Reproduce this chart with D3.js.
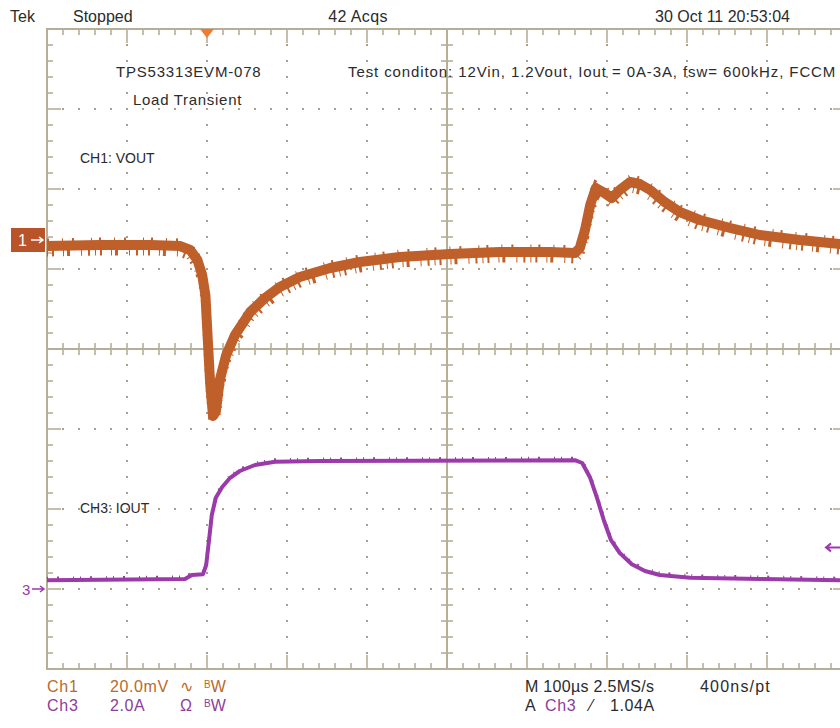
<!DOCTYPE html>
<html lang="en">
<head>
<meta charset="UTF-8">
<title>TPS53313EVM-078 Load Transient</title>
<script src="https://cdnjs.cloudflare.com/ajax/libs/d3/7.8.5/d3.min.js"></script>
<style>
    body { margin: 0; background: #fff; }
    svg { display: block; font-family: "Liberation Sans", Arial, sans-serif; }
</style>
</head>
<body>
<div id="chart"></div>
<script>
    // time in µs from left edge of the screen (100 µs/div, 10 div)
    const ch1Time = [0, 66, 129, 166, 179, 188, 194, 198, 201, 204, 207.5, 211, 216, 224, 235, 254, 272.5,
        291, 316, 354, 391, 441, 504, 566, 629, 660, 666, 672.5, 679, 686, 695, 706, 716, 729, 741, 754,
        772, 791, 816, 854, 891, 941, 991, 1000];
    // VOUT deviation in mV (20 mV/div)
    const ch1Vout = [-1.5, -1.25, -1.25, -1.5, -2.5, -5, -8.75, -13.75, -25, -36, -44, -43, -35, -28.75,
        -23.75, -18, -14.5, -11.75, -9.25, -7, -5.5, -4.25, -3.5, -3, -3, -3.25, -2, 2.5, 8.75, 13, 12,
        10.5, 12.5, 14.5, 14, 12.5, 9.5, 7, 5, 3, 1.25, 0, -1, -1];

    const ch3Time = [0, 172.5, 181, 195, 199, 202.5, 206, 211, 219, 229, 241, 260, 285, 341, 660, 669,
        679, 687.5, 696, 705, 716, 731, 747.5, 766, 804, 891, 991, 1000];
    // IOUT in A (2 A/div)
    const ch3Iout = [0.22, 0.25, 0.35, 0.37, 0.6, 1.22, 1.85, 2.28, 2.55, 2.78, 2.95, 3.1, 3.18, 3.2, 3.22,
        3.15, 2.78, 2.28, 1.72, 1.22, 0.9, 0.62, 0.45, 0.35, 0.28, 0.25, 0.22, 0.22];

    const triggerTime = 200;   // µs
    const triggerLevel = 1.04; // A

    const width = 840, height = 728;
    const gLeft = 47, gTop = 29, div = 80;
    const nx = 10, ny = 8, minor = 5;
    const gRight = gLeft + nx * div, gBottom = gTop + ny * div;
    const cx = gLeft + nx / 2 * div, cy = gTop + ny / 2 * div;

    const gridColor = "#b7ae98";
    const ch1Color = "#bf5f2a";
    const ch3Color = "#9b3aa9";

    const x = d3.scaleLinear().domain([0, 1000]).range([gLeft, gRight]);
    const y1 = d3.scaleLinear().domain([0, 20]).range([240, 240 - div]);   // ch1 ground marker at 240
    const y3 = d3.scaleLinear().domain([0, 2]).range([589, 589 - div]);    // ch3 ground marker at 589

    const svg = d3.select("#chart").append("svg")
        .attr("width", width).attr("height", height);

    const grid = svg.append("g");
    const step = div / minor;

    // dotted graticule
    d3.range(1, nx).filter(i => i !== nx / 2).forEach(i => {
        d3.range(0, ny * minor + 1).forEach(j => {
            grid.append("rect").attr("x", gLeft + i * div - 1).attr("y", gTop + j * step - 1)
                .attr("width", 2).attr("height", 2).attr("fill", "#a8a08a");
        });
    });
    d3.range(1, ny).filter(j => j !== ny / 2).forEach(j => {
        d3.range(0, nx * minor + 1).forEach(i => {
            grid.append("rect").attr("x", gLeft + i * step - 1).attr("y", gTop + j * div - 1)
                .attr("width", 2).attr("height", 2).attr("fill", "#a8a08a");
        });
    });

    // border
    grid.append("rect").attr("x", gLeft).attr("y", gTop)
        .attr("width", gRight - gLeft).attr("height", gBottom - gTop)
        .attr("fill", "none").attr("stroke", gridColor).attr("stroke-width", 2);

    // center cross
    grid.append("line").attr("x1", cx).attr("x2", cx).attr("y1", gTop).attr("y2", gBottom)
        .attr("stroke", gridColor).attr("stroke-width", 2);
    grid.append("line").attr("x1", gLeft).attr("x2", gRight).attr("y1", cy).attr("y2", cy)
        .attr("stroke", gridColor).attr("stroke-width", 2);

    // ticks along border and center lines
    d3.range(0, nx * minor + 1).forEach(i => {
        const xx = gLeft + i * step;
        const major = i % minor === 0;
        const len = major ? 14 : 6;
        grid.append("line").attr("x1", xx).attr("x2", xx).attr("y1", gTop).attr("y2", gTop + len)
            .attr("stroke", gridColor).attr("stroke-width", 1.6);
        grid.append("line").attr("x1", xx).attr("x2", xx).attr("y1", gBottom).attr("y2", gBottom - len)
            .attr("stroke", gridColor).attr("stroke-width", 1.6);
        grid.append("line").attr("x1", xx).attr("x2", xx).attr("y1", cy - 6).attr("y2", cy + 6)
            .attr("stroke", gridColor).attr("stroke-width", 1.6);
    });
    d3.range(0, ny * minor + 1).forEach(j => {
        const yy = gTop + j * step;
        const major = j % minor === 0;
        const len = major ? 14 : 6;
        grid.append("line").attr("x1", gLeft).attr("x2", gLeft + len).attr("y1", yy).attr("y2", yy)
            .attr("stroke", gridColor).attr("stroke-width", 1.6);
        grid.append("line").attr("x1", gRight).attr("x2", gRight - len).attr("y1", yy).attr("y2", yy)
            .attr("stroke", gridColor).attr("stroke-width", 1.6);
        grid.append("line").attr("x1", cx - 6).attr("x2", cx + 6).attr("y1", yy).attr("y2", yy)
            .attr("stroke", gridColor).attr("stroke-width", 1.6);
    });

    // traces
    const ch1Data = ch1Time.map((t, i) => [t, ch1Vout[i]]);
    const ch3Data = ch3Time.map((t, i) => [t, ch3Iout[i]]);

    const line1 = d3.line().x(d => x(d[0])).y(d => y1(d[1]));
    const line3 = d3.line().x(d => x(d[0])).y(d => y3(d[1]));

    svg.append("path").attr("d", line1(ch1Data))
        .attr("fill", "none").attr("stroke", ch1Color).attr("stroke-width", 10)
        .attr("stroke-linejoin", "round");
    // switching ripple spikes (drawn as irregular dashes around the trace)
    svg.append("path").attr("d", line1(ch1Data)).attr("transform", "translate(0,6)")
        .attr("fill", "none").attr("stroke", ch1Color).attr("stroke-width", 9)
        .attr("stroke-dasharray", "1 4 2 9 1 3 3 11 1 6 2 5");
    svg.append("path").attr("d", line1(ch1Data)).attr("transform", "translate(0,-5)")
        .attr("fill", "none").attr("stroke", ch1Color).attr("stroke-width", 5)
        .attr("stroke-dasharray", "2 13 1 9 2 17 1 7");

    svg.append("path").attr("d", line3(ch3Data))
        .attr("fill", "none").attr("stroke", ch3Color).attr("stroke-width", 4)
        .attr("stroke-linejoin", "round");
    svg.append("path").attr("d", line3(ch3Data)).attr("transform", "translate(0,-2)")
        .attr("fill", "none").attr("stroke", ch3Color).attr("stroke-width", 3)
        .attr("stroke-dasharray", "1 9 2 14 1 6");

    // markers
    const tx = x(triggerTime);
    svg.append("path").attr("d", `M${tx - 7},${gTop} L${tx + 7},${gTop} L${tx},${gTop + 9} Z`)
        .attr("fill", "#f07a30");

    svg.append("rect").attr("x", 11).attr("y", y1(0) - 12).attr("width", 34).attr("height", 24)
        .attr("fill", "#b9532a");
    svg.append("text").attr("x", 18).attr("y", y1(0) + 6).attr("fill", "#fff")
        .attr("font-size", 16).text("1");
    svg.append("path").attr("d", `M31,${y1(0)} L43,${y1(0)} M39,${y1(0) - 3} L43,${y1(0)} L39,${y1(0) + 3}`)
        .attr("stroke", "#fff").attr("stroke-width", 1.5).attr("fill", "none");

    svg.append("text").attr("x", 22).attr("y", y3(0) + 6).attr("fill", ch3Color)
        .attr("font-size", 15).text("3");
    svg.append("path").attr("d", `M32,${y3(0)} L44,${y3(0)} M40,${y3(0) - 3} L44,${y3(0)} L40,${y3(0) + 3}`)
        .attr("stroke", ch3Color).attr("stroke-width", 1.5).attr("fill", "none");

    const ty = y3(triggerLevel);
    svg.append("path").attr("d", `M840,${ty} L826,${ty} M831,${ty - 4} L826,${ty} L831,${ty + 4}`)
        .attr("stroke", ch3Color).attr("stroke-width", 2).attr("fill", "none");

    // texts
    const txt = (xx, yy, s, opt = {}) => svg.append("text").attr("x", xx).attr("y", yy)
        .attr("font-size", opt.size || 15).attr("fill", opt.color || "#2b2b2b")
        .attr("letter-spacing", opt.ls || 0)
        .attr("text-anchor", opt.anchor || "start").text(s);

    txt(10, 22, "Tek", { size: 16 });
    txt(73, 22, "Stopped", { size: 16 });
    txt(358, 22, "42 Acqs", { size: 16, anchor: "middle", ls: 0.4 });
    txt(790, 22, "30 Oct 11 20:53:04", { size: 16, anchor: "end" });

    txt(116, 77, "TPS53313EVM-078", { ls: 0.8 });
    txt(133, 105, "Load Transient", { ls: 0.7 });
    txt(348, 77, "Test conditon: 12Vin, 1.2Vout, Iout = 0A-3A, fsw= 600kHz, FCCM", { ls: 0.9 });
    txt(80, 163, "CH1: VOUT", { size: 14 });
    txt(80, 513, "CH3: IOUT", { size: 14 });

    const c1Text = "#b86a2c", c3Text = "#8d3c9c";
    const bw = (xx, yy, color) => svg.append("text").attr("x", xx).attr("y", yy).attr("fill", color)
        .attr("font-size", 16)
        .html('<tspan font-size="10" dy="-4">B</tspan><tspan dy="4">W</tspan>');

    txt(47, 692, "Ch1", { color: c1Text, size: 16, ls: 0.8 });
    txt(110, 692, "20.0mV", { color: c1Text, size: 16, ls: 0.6 });
    txt(180, 692, "∿", { color: c1Text, size: 16 });
    bw(204, 692, c1Text);
    txt(47, 711, "Ch3", { color: c3Text, size: 16, ls: 0.8 });
    txt(110, 711, "2.0A", { color: c3Text, size: 16, ls: 0.6 });
    txt(180, 711, "Ω", { color: c3Text, size: 16 });
    bw(204, 711, c3Text);

    txt(525, 692, "M 100µs 2.5MS/s", { size: 16, ls: 0.3 });
    txt(700, 692, "400ns/pt", { size: 16, ls: 1.2 });
    txt(525, 711, "A", { size: 16 });
    txt(545, 711, "Ch3", { size: 16, color: c3Text, ls: 0.6 });
    txt(590, 711, "⁄", { size: 16 });
    txt(610, 711, "1.04A", { size: 16, ls: 0.6 });
</script>
</body>
</html>
